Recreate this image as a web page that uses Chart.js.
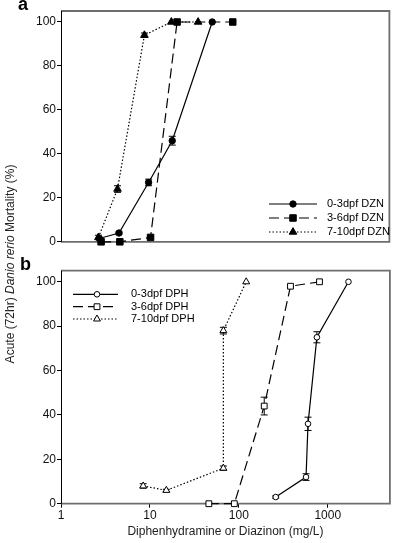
<!DOCTYPE html>
<html><head><meta charset="utf-8">
<script src="https://cdn.jsdelivr.net/npm/chart.js@4.4.1/dist/chart.umd.min.js"></script>
<style>
html,body{margin:0;padding:0;background:#fff;width:395px;height:543px;overflow:hidden;font-family:"Liberation Sans",Arial,sans-serif}
#ca{position:absolute;left:0;top:0}
#cb{position:absolute;left:0;top:255px}
.lab{position:absolute;font-weight:bold;font-size:18px;line-height:18px;color:#000}
#ytitle{position:absolute;left:10px;top:264px;transform:translate(-50%,-50%) rotate(-90deg);white-space:nowrap;font-size:12px;color:#222}
</style></head><body>
<canvas id="ca" width="395" height="250"></canvas>
<canvas id="cb" width="395" height="288"></canvas>
<div class="lab" style="left:18px;top:-5px">a</div>
<div class="lab" style="left:20px;top:255px">b</div>
<div id="ytitle">Acute (72hr) <i>Danio rerio</i> Mortality (%)</div>
<script>
// ---- data ----
const dznConc03=[2.7,4.5,9.7,17.9,50.5], dznMort03=[1.5,4,27,46,100], dznErr03=[0.5,0.5,1.5,2,0];
const dznConc36=[2.83,4.6,10.2,20.3,86], dznMort36=[0,0,2,100,100], dznErr36=[0,0,0.5,0,0];
const dznConc710=[2.64,4.33,8.7,17.5,35], dznMort710=[2,24,94,100,100], dznErr710=[1,1.5,1,0,0];
const dphConc03=[260,570,600,755,1710], dphMort03=[3,12,36,75,100], dphErr03=[0.5,1.5,3,2.5,0];
const dphConc36=[46,89,193,381,808], dphMort36=[0,0,44,98,100], dphErr36=[0,0,4,0.5,0];
const dphConc710=[8.4,15.3,67,67,121], dphMort710=[8,6,16,78,100], dphErr710=[1,0.5,1,1.5,0];
const xTicks=[1,10,100,1000];
const yTicks=[0,20,40,60,80,100];
const labelsA=['0-3dpf DZN','3-6dpf DZN','7-10dpf DZN'];
const labelsB=['0-3dpf DPH','3-6dpf DPH','7-10dpf DPH'];

const FONT='"Liberation Sans", Arial, sans-serif';
const dashes=[[],[10,5],[1.5,2]];
const pstyles=['circle','rect','triangle'];
const radiiFilled=[3.2,4.6,4.4];
const radiiOpen=[2.8,4.1,4.0];

function ds(label,xs,ys,err,k,filled){
  const r=filled?radiiFilled[k]:radiiOpen[k];
  return {label,data:xs.map((x,i)=>({x,y:ys[i]})),err,
    borderColor:'#000',borderWidth:1.2,borderDash:dashes[k],
    pointStyle:pstyles[k],pointRadius:r,pointHoverRadius:r,
    pointBackgroundColor:filled?'#000':'#fff',pointBorderColor:'#000',pointBorderWidth:1,
    tension:0,clip:false,fill:false};
}

const framePlugin={id:'frame',beforeDatasetsDraw(chart){
  const {ctx,chartArea:a}=chart;ctx.save();
  ctx.strokeStyle='#6e6e6e';ctx.lineWidth=1.8;ctx.setLineDash([]);
  ctx.beginPath();ctx.moveTo(a.left,a.top);ctx.lineTo(a.right,a.top);ctx.lineTo(a.right,a.bottom);ctx.lineTo(a.left,a.bottom);ctx.stroke();
  ctx.strokeStyle='#000';ctx.lineWidth=1;
  ctx.beginPath();ctx.moveTo(a.left+0.5,a.top);ctx.lineTo(a.left+0.5,a.bottom);ctx.stroke();
  // error bars
  ctx.lineWidth=1;
  chart.data.datasets.forEach((d,di)=>{
    d.data.forEach((p,i)=>{
      const e=d.err[i];if(!e)return;
      const x=chart.scales.x.getPixelForValue(p.x);
      const y1=chart.scales.y.getPixelForValue(p.y-e),y2=chart.scales.y.getPixelForValue(p.y+e);
      ctx.beginPath();ctx.moveTo(x,y1);ctx.lineTo(x,y2);
      ctx.moveTo(x-3.5,y1);ctx.lineTo(x+3.5,y1);ctx.moveTo(x-3.5,y2);ctx.lineTo(x+3.5,y2);ctx.stroke();
    });
  });
  ctx.restore();
}};

const legendPlugin={id:'lg',afterDatasetsDraw(chart,args,o){
  const {ctx}=chart;ctx.save();
  chart.data.datasets.forEach((d,k)=>{
    const y=o.ys[k];
    ctx.strokeStyle='#000';ctx.lineWidth=1.2;ctx.setLineDash(dashes[k]);
    ctx.beginPath();ctx.moveTo(o.x1,y);ctx.lineTo(o.x2,y);ctx.stroke();
    ctx.setLineDash([]);
    ctx.fillStyle=d.pointBackgroundColor;ctx.strokeStyle='#000';ctx.lineWidth=1;
    Chart.helpers.drawPoint(ctx,{pointStyle:pstyles[k],radius:d.pointRadius,borderWidth:1,rotation:0},o.xm,y);
    ctx.fillStyle='#000';ctx.font='11px '+FONT;ctx.textBaseline='middle';ctx.textAlign='left';
    ctx.fillText(d.label,o.tx,y);
  });
  ctx.restore();
}};

function opts(showX,pad,xh,leg){
  return {responsive:false,animation:false,
    layout:{padding:{left:0,right:1,top:pad,bottom:0}},
    plugins:{legend:{display:false},tooltip:{enabled:false},lg:leg},
    scales:{
      x:{type:'logarithmic',min:1,max:5000,
        afterBuildTicks(s){s.ticks=xTicks.map(v=>({value:v}));},
        afterFit(s){s.height=xh;},
        border:{display:false},
        grid:{display:showX,drawOnChartArea:false,drawTicks:true,tickLength:4,color:'#000'},
        ticks:{display:showX,padding:1,color:'#111',font:{family:FONT,size:12},callback:v=>String(v),maxRotation:0,autoSkip:false},
        title:{display:showX,text:'Diphenhydramine or Diazinon (mg/L)',color:'#222',font:{family:FONT,size:12}}},
      y:{min:0,max:105,
        afterBuildTicks(s){s.ticks=yTicks.map(v=>({value:v}));},
        afterFit(s){s.width=61;},
        border:{display:false},
        grid:{drawOnChartArea:false,drawTicks:true,tickLength:4,color:'#000'},
        ticks:{padding:1,color:'#111',font:{family:FONT,size:12}}}
    }};
}

new Chart(document.getElementById('ca'),{type:'line',
  data:{datasets:[
    ds(labelsA[0],dznConc03,dznMort03,dznErr03,0,true),
    ds(labelsA[1],dznConc36,dznMort36,dznErr36,1,true),
    ds(labelsA[2],dznConc710,dznMort710,dznErr710,2,true)]},
  options:opts(false,11,6,{x1:269,x2:317,xm:293,tx:327,ys:[204,218,232]}),
  plugins:[framePlugin,legendPlugin]});

new Chart(document.getElementById('cb'),{type:'line',
  data:{datasets:[
    ds(labelsB[0],dphConc03,dphMort03,dphErr03,0,false),
    ds(labelsB[1],dphConc36,dphMort36,dphErr36,1,false),
    ds(labelsB[2],dphConc710,dphMort710,dphErr710,2,false)]},
  options:opts(true,15.7,39.3,{x1:73,x2:118,xm:97,tx:131,ys:[39.3,51.7,64]}),
  plugins:[framePlugin,legendPlugin]});
</script>
</body></html>
